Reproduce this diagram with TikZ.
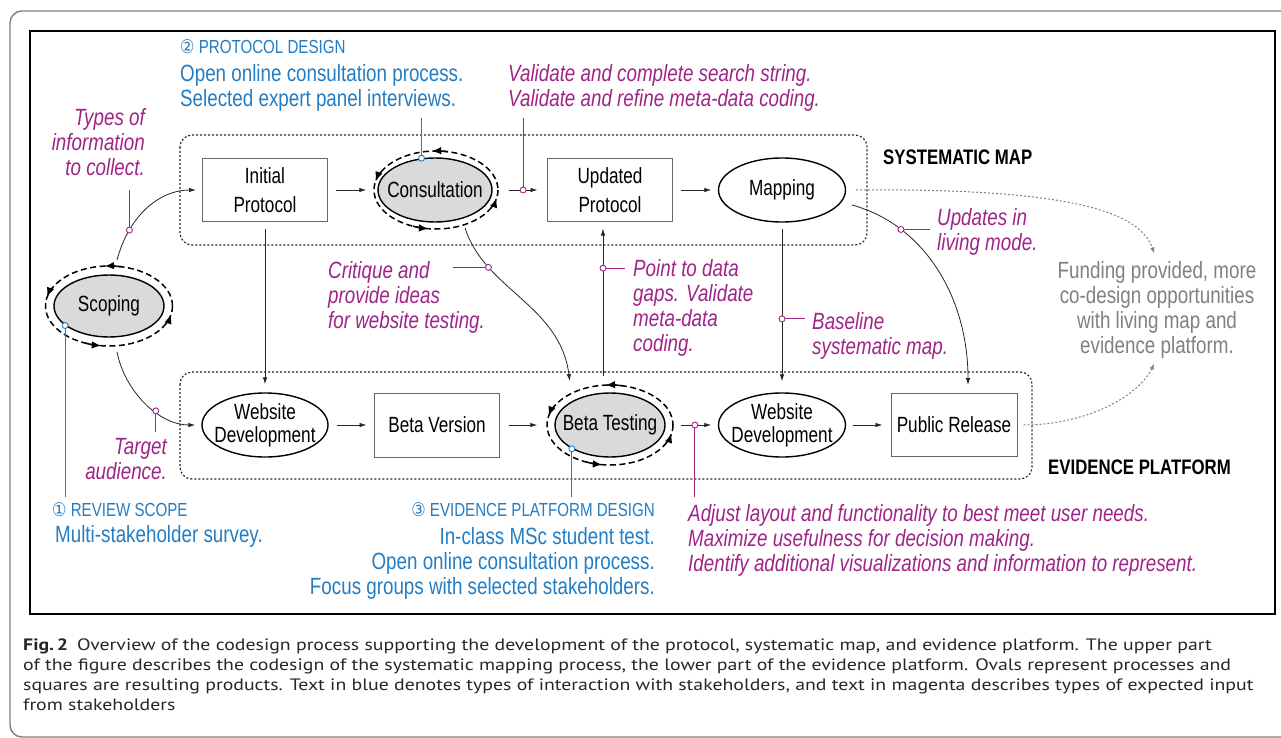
\documentclass[tikz,border=0pt]{standalone}
\usepackage{fontspec}
\setmainfont{Liberation Sans}
\newfontfamily\cf[FakeStretch=0.78]{Liberation Sans}
\newfontfamily\cfb[FakeStretch=0.8]{Liberation Sans}
\newfontfamily\capf[FakeStretch=1.2]{PT Sans}
\newfontfamily\symf[FakeStretch=0.85]{DejaVu Sans}
\usetikzlibrary{arrows.meta,shapes.geometric,calc}
\definecolor{cblue}{RGB}{35,125,195}
\definecolor{cmag}{RGB}{160,35,135}
\definecolor{cgrey}{RGB}{128,128,128}
\definecolor{cfill}{RGB}{218,218,218}
\newcommand\cycring[3]{%
  \draw[cyc] (#1) ellipse [x radius=#2, y radius=#3];
  \foreach \ang in {266,193,97,12}{%
    \draw[cycarrow, shift={(#1)}] (\ang+15:#2 and #3) arc[start angle=\ang+15, end angle=\ang, x radius=#2, y radius=#3];
  }%
}
\begin{document}
\begin{tikzpicture}[x=1pt,y=-1pt,
  prodbox/.style={draw=black!60, line width=1pt, minimum width=125pt, minimum height=63pt, inner sep=0pt, fill=white, font=\cf\fontsize{22}{29}\selectfont, align=center},
  procell/.style={ellipse, draw=black, line width=1.4pt, inner sep=0pt, fill=white},
  grayell/.style={procell, fill=cfill},
  ntext/.style={font=\cf\fontsize{22}{23}\selectfont, align=center, inner sep=0pt},
  conn/.style={draw=black!85, line width=0.8pt, -{Latex[length=7pt,width=4.5pt]}},
  gdot/.style={draw=cgrey, line width=1pt, dash pattern=on 2pt off 2pt, -{Latex[length=6pt,width=4.5pt]}},
  magline/.style={draw=cmag, line width=0.9pt},
  blueline/.style={draw=cblue, line width=0.9pt},
  magdot/.style={circle, draw=cmag, fill=white, line width=0.9pt, inner sep=0pt, minimum size=6pt},
  bluedot/.style={circle, draw=cblue, fill=white, line width=0.9pt, inner sep=0pt, minimum size=6pt},
  grp/.style={draw=black!85, line width=1.2pt, dash pattern=on 2pt off 2pt, rounded corners=12pt},
  cyc/.style={draw=black, line width=1.5pt, dash pattern=on 6pt off 3.5pt},
  cycarrow/.style={draw=black, line width=1.5pt, -{Latex[length=9.5pt,width=7.5pt]}},
  mtext/.style={font=\cfb\itshape\fontsize{23.5}{25}\selectfont, text=cmag, inner sep=0pt},
  btext/.style={font=\cfb\fontsize{23.5}{25}\selectfont, text=cblue, inner sep=0pt},
  bhead/.style={font=\cfb\fontsize{18.9}{22}\selectfont, text=cblue, inner sep=0pt},
  ghead/.style={font=\cfb\bfseries\fontsize{21}{22}\selectfont, text=black, inner sep=0pt},
  ftext/.style={font=\cfb\fontsize{23.5}{25}\selectfont, text=cgrey, inner sep=0pt, align=center},
  captext/.style={font=\capf\fontsize{16.5}{20}\selectfont, text=black!85, inner sep=0pt, align=left}
]
\useasboundingbox (0,0) rectangle (1281,738);
% frames
\draw[draw=black!50, line width=1.4pt, rounded corners=12pt] (10,11) rectangle (1300,737);
\draw[draw=black, line width=2.2pt] (30,31) rectangle (1275,614);
% groups
\draw[grp] (180,135) rectangle (867,245);
\draw[grp] (180,372) rectangle (1032,479);
\node[ghead, anchor=west] (smap) at (883,157) {SYSTEMATIC MAP};
\node[ghead, anchor=west] (eplat) at (1048,467) {EVIDENCE PLATFORM};

% nodes
\node[prodbox] (ip) at (265,190) {Initial\\Protocol};
\node[prodbox] (up) at (610,190) {Updated\\Protocol};
\node[prodbox, minimum height=64pt] (bv) at (437,425) {Beta Version};
\node[prodbox, minimum width=126pt] (pr) at (954,425) {Public Release};

\node[grayell, minimum width=110pt, minimum height=62pt, label={[ntext]center:Scoping}] (scop) at (109,306) {};
\node[grayell, minimum width=114pt, minimum height=64pt, label={[ntext]center:Consultation}] (cons) at (435,190) {};
\node[grayell, minimum width=110pt, minimum height=64pt, label={[ntext]center:Beta Testing}] (bt) at (610,425) {};
\node[procell, minimum width=127pt, minimum height=64pt, label={[ntext]center:Mapping}] (map) at (782,190) {};
\node[procell, minimum width=126pt, minimum height=64pt, label={[ntext]center:{Website\\Development}}] (wd1) at (265,425) {};
\node[procell, minimum width=127pt, minimum height=64pt, label={[ntext]center:{Website\\Development}}] (wd2) at (782,425) {};
\cycring{scop}{63.5}{40}
\coordinate (consr) at (436,190);
\cycring{consr}{62}{39}
\cycring{bt}{63}{40}

% texts
\node[mtext, align=right, anchor=north east] (types) at (145,108) {Types of\\information\\to collect.};
\node[bhead, anchor=west] (pdhead) at (180,47) {{\symf ②} PROTOCOL DESIGN};
\node[btext, align=left, anchor=north west] (pdtext) at (180,64) {Open online consultation process.\\Selected expert panel interviews.};
\node[mtext, align=left, anchor=north west] (valid) at (508,64) {Validate and complete search string.\\Validate and refine meta-data coding.};
\node[mtext, align=left, anchor=north west] (crit) at (328,261) {Critique and\\provide ideas\\for website testing.};
\node[mtext, align=left, anchor=north west] (point) at (633,259) {Point to data\\gaps. Validate\\meta-data\\coding.};
\node[mtext, align=left, anchor=north west] (base) at (812,312) {Baseline\\systematic map.};
\node[mtext, align=left, anchor=north west] (upd) at (937,208) {Updates in\\living mode.};
\node[ftext, anchor=north] (fund) at (1157,261) {Funding provided, more\\co-design opportunities\\with living map and\\evidence platform.};
\node[mtext, align=right, anchor=north east] (target) at (167,438) {Target\\audience.};
\node[bhead, anchor=west] (rshead) at (52,510) {{\symf ①} REVIEW SCOPE};
\node[btext, anchor=west] (rstext) at (55,536) {Multi-stakeholder survey.};
\node[bhead, anchor=east] (ephead) at (655,510) {{\symf ③} EVIDENCE PLATFORM DESIGN};
\node[btext, align=right, anchor=north east] (eptext) at (655,527) {In-class MSc student test.\\Open online consultation process.\\Focus groups with selected stakeholders.};
\node[mtext, align=left, anchor=north west] (adj) at (688,504) {Adjust layout and functionality to best meet user needs.\\Maximize usefulness for decision making.\\Identify additional visualizations and information to represent.};

% connectors
\draw[conn, shorten <=7.5pt, shorten >=11pt] (ip) -- (cons);
\draw[conn, shorten <=16pt, shorten >=9.5pt] (cons.east) -- (up.west) coordinate[pos=0.56] (m8);
\draw[conn, shorten <=7.5pt, shorten >=6.5pt] (up) -- (map);
\draw[conn, shorten <=8pt, shorten >=7.5pt] (wd1) -- (bv);
\draw[conn, shorten <=8.5pt, shorten >=17pt] (bv) -- (bt);
\draw[conn, shorten <=15pt, shorten >=6.5pt] (bt.east) -- (wd2.west) coordinate[pos=0.56] (m7);
\draw[conn, shorten <=6.5pt, shorten >=8pt] (wd2) -- (pr);
\draw[conn, shorten <=6.5pt, shorten >=8pt] (ip.south) -- (wd1.north);
\draw[conn, shorten <=16pt, shorten >=6.5pt] ([xshift=-7pt]bt.north) -- ([xshift=-7pt]up.south) coordinate[pos=0.729] (m4);
\draw[conn, shorten <=6pt, shorten >=11pt] (map.south) -- (wd2.north) coordinate[pos=0.567] (m5);
\draw[conn, shorten >=6pt] ($(scop)+(8,-46)$) .. controls +(12,-45) and +(-42,0) .. (ip.west) coordinate[pos=0.25] (m1);
\draw[conn, shorten >=6pt] ($(scop)+(8,46)$) .. controls +(8,40) and +(-42,0) .. (wd1.west) coordinate[pos=0.6] (m2);
\draw[conn, shorten >=2pt] ($(cons)+(30,38)$) .. controls +(20,62) and +(-10,-78) .. ($(bt)+(-40,-42)$) coordinate[pos=0.25] (m3);
\draw[conn, shorten >=8pt] ($(map)+(70,15)$) .. controls +(73,20) and +(0,-95) .. ([xshift=14pt]pr.north) coordinate[pos=0.25] (m6);
\draw[gdot, shorten >=8pt] ($(map.east)+(10,0)$) .. controls +(220,-2) and +(-17,-48) .. (fund.north);
\draw[gdot, shorten >=6pt] ($(pr.east)+(6,0)$) .. controls +(60,0) and +(-20,40) .. (fund.south);

% annotation leaders
\coordinate (e1) at (128,190);
\coordinate (e2) at (155,432);
\coordinate (e3) at (453,268);
\coordinate (e4) at (625,268);
\coordinate (e5) at (805,319);
\coordinate (e6) at (930,232);
\coordinate (e7) at (695,497);
\coordinate (e8) at (523,118);
\coordinate (f1) at (422,118);
\coordinate (f2) at (66,497);
\coordinate (f3) at (573,497);
\draw[magline] (m1) -- (m1 |- e1);
\draw[magline] (m2) -- (m2 |- e2);
\draw[magline] (m3) -- (m3 -| e3);
\draw[magline] (m4) -- (m4 -| e4);
\draw[magline] (m5) -- (m5 -| e5);
\draw[magline] (m6) -- (m6 -| e6);
\draw[magline] (m7) -- (m7 |- e7);
\draw[magline] (m8) -- (m8 |- e8);
\draw[blueline] (cons.113) -- (cons.113 |- f1);
\draw[blueline] (scop.204) -- (scop.204 |- f2);
\draw[blueline] (bt.212) -- (bt.212 |- f3);
\foreach \p in {m1,m2,m3,m4,m5,m6,m7,m8} \node[magdot] (d\p) at (\p) {};
\node[bluedot] (dc) at (cons.113) {};
\node[bluedot] (ds) at (scop.204) {};
\node[bluedot] (db) at (bt.212) {};

% caption
\node[captext, anchor=north west] (cap) at (23,639) {\textbf{Fig.\,2}\hspace{0.55em}Overview of the codesign process supporting the development of the protocol, systematic map, and evidence platform. The upper part\\of the figure describes the codesign of the systematic mapping process, the lower part of the evidence platform. Ovals represent processes and\\squares are resulting products. Text in blue denotes types of interaction with stakeholders, and text in magenta describes types of expected input\\from stakeholders};
\end{tikzpicture}
\end{document}
